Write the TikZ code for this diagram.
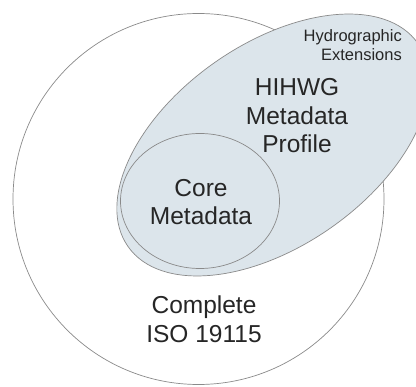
\documentclass[tikz,border=0pt]{standalone}
\usepackage{fontspec}
\setmainfont{Liberation Sans}
\definecolor{shapeline}{HTML}{8A8A8A}
\definecolor{shapefill}{HTML}{DCE5EB}
\definecolor{txt}{HTML}{262626}
\begin{document}
\begin{tikzpicture}[x=1pt,y=1pt,
  outline/.style={draw=shapeline, line width=0.7pt},
  bigtxt/.style={text=txt, font=\fontsize{24.5}{28.5}\selectfont, align=center, inner sep=0pt},
  smalltxt/.style={text=txt, font=\fontsize{16.5}{19.5}\selectfont, align=right, inner sep=0pt}]
\useasboundingbox (0,0) rectangle (416,-387);
\fill[white] (0,0) rectangle (416,-387);
\begin{scope}
\clip (0,0) rectangle (416,-387);
% complete ISO 19115
\draw[outline, fill=white] (198.5,-199) circle [radius=185.5];
% HIHWG profile
\draw[outline, fill=shapefill] (273,-145) ellipse [x radius=177, y radius=101, rotate=35];
% core metadata
\draw[outline, fill=shapefill] (200,-201) ellipse [x radius=79.5, y radius=67.5];
\end{scope}
\node[smalltxt, anchor=east] (hydro) at (402,-45) {Hydrographic\\Extensions};
\node[bigtxt] (profile) at (297,-116) {HIHWG\\Metadata\\Profile};
\node[bigtxt] (core) at (201,-202) {Core\\Metadata};
\node[bigtxt] (iso) at (204,-319) {Complete\\ISO 19115};
\end{tikzpicture}
\end{document}
